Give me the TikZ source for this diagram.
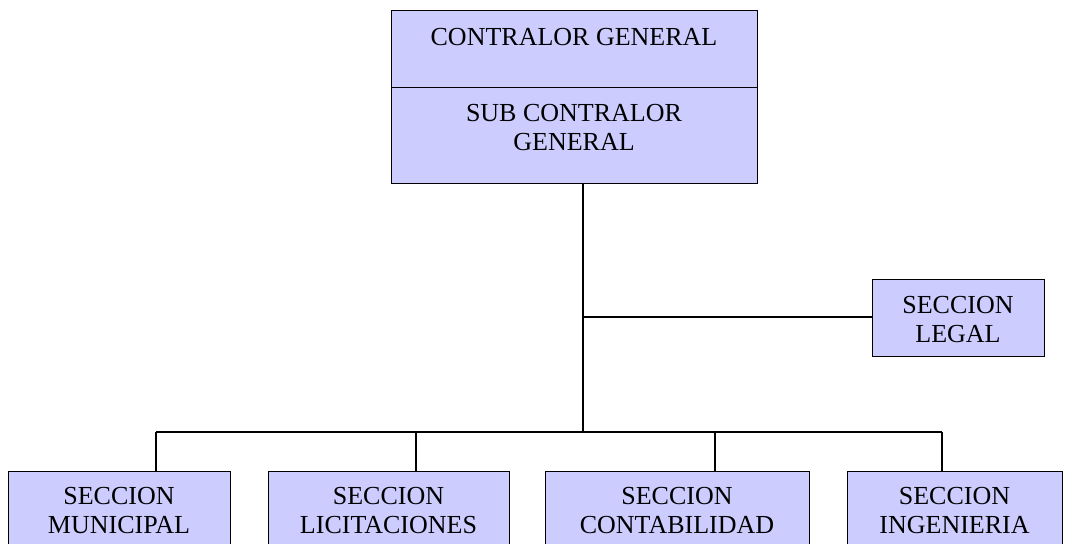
\documentclass[tikz,border=0pt]{standalone}
\usepackage{fontspec}
\setmainfont{Liberation Serif}
\definecolor{boxfill}{RGB}{204,204,255}
\begin{document}
\begin{tikzpicture}[x=0.5pt,y=-0.5pt,
  box/.style={draw=black,line width=0.7pt,fill=boxfill,rectangle,inner sep=0pt,anchor=north west},
  lbl/.style={align=center,inner sep=0pt,font=\fontsize{13}{14.5}\selectfont},
  conn/.style={draw=black,line width=0.65pt}]
\useasboundingbox (0,0) rectangle (1071,543);
\clip (0,0) rectangle (1071,543);
% boxes
\node[box,minimum width=183pt,minimum height=38.5pt] (ctop) at (391,10) {};
\node[box,minimum width=183pt,minimum height=48pt] (csub) at (391,87) {};
\node[box,minimum width=86pt,minimum height=38.5pt] (legal) at (872,279) {};
\node[box,minimum width=111pt,minimum height=45pt] (b1) at (8,471) {};
\node[box,minimum width=120.5pt,minimum height=45pt] (b2) at (268,471) {};
\node[box,minimum width=132pt,minimum height=45pt] (b3) at (545,471) {};
\node[box,minimum width=107.5pt,minimum height=45pt] (b4) at (847,471) {};
% labels
\node[lbl] (tctop) at (574,37.5) {CONTRALOR GENERAL};
\node[lbl] (tcsub) at (574,128) {SUB CONTRALOR\\GENERAL};
\node[lbl] (tlegal) at (958,320) {SECCION\\LEGAL};
\node[lbl] (tb1) at (119,511) {SECCION\\MUNICIPAL};
\node[lbl] (tb2) at (388.5,511) {SECCION\\LICITACIONES};
\node[lbl] (tb3) at (677,511) {SECCION\\CONTABILIDAD};
\node[lbl] (tb4) at (954.5,511) {SECCION\\INGENIERIA};
% connectors
\coordinate (j1) at (583,317);
\coordinate (j2) at (583,432);
\coordinate (d1) at (156,432);
\coordinate (d2) at (416,432);
\coordinate (d3) at (715,432);
\coordinate (d4) at (942,432);
\draw[conn] (csub.south -| j1) -- (j2);
\draw[conn] (j1) -- (legal.west |- j1);
\draw[conn] (d1) -- (d4);
\draw[conn] (d1) -- (d1 |- b1.north);
\draw[conn] (d2) -- (d2 |- b2.north);
\draw[conn] (d3) -- (d3 |- b3.north);
\draw[conn] (d4) -- (d4 |- b4.north);
\end{tikzpicture}
\end{document}
